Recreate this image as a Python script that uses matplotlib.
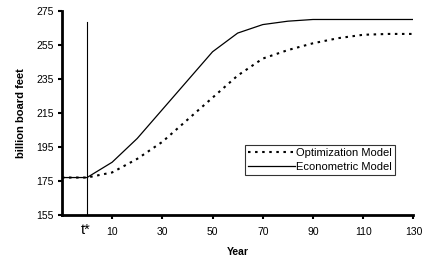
import matplotlib.pyplot as plt
import numpy as np

plt.rcParams['font.family'] = ['Liberation Sans', 'DejaVu Sans']
plt.rcParams['font.size'] = 7.5

# Data (year relative to t*)
years = [-10, 0, 10, 20, 30, 40, 50, 60, 70, 80, 90, 100, 110, 120, 130]
optimization = [177, 177, 180, 188, 198, 211, 224, 237, 247, 252, 256, 259, 261, 261.5, 261.5]
econometric = [177, 177, 186, 200, 217, 234, 251, 262, 267, 269, 270, 270, 270, 270, 270]
xticks = [10, 30, 50, 70, 90, 110, 130]
yticks = [155, 175, 195, 215, 235, 255, 275]

fig = plt.figure(figsize=(4.24, 2.68), dpi=100)
ax = fig.add_axes([0.146, 0.198, 0.829, 0.761])

ax.plot(years, optimization, color='black', linewidth=1.5, linestyle=(0, (1.2, 2.2)),
        label='Optimization Model')
ax.plot(years, econometric, color='black', linewidth=0.9, label='Econometric Model')

# vertical marker at t*
ax.plot([0, 0], [155, 268.7], color='black', linewidth=0.8)

ax.set_xlim(-10, 130)
ax.set_ylim(155, 275)
ax.set_xticks(xticks)
ax.set_yticks(yticks)
ax.tick_params(direction='out', length=3, width=1.5)
ax.tick_params(axis='x', pad=6)
ax.tick_params(axis='y', pad=3)

ax.spines['top'].set_visible(False)
ax.spines['right'].set_visible(False)
ax.spines['left'].set_linewidth(2)
ax.spines['bottom'].set_linewidth(2)

ax.text(-0.5, 146, 't*', ha='center', va='center', fontsize=10.5, clip_on=False)

ax.set_xlabel('Year', fontweight='bold', fontsize=7.5, labelpad=7)
ax.set_ylabel('billion board feet', fontweight='bold', fontsize=8, labelpad=7)

leg = ax.legend(loc='upper left', bbox_to_anchor=(0.521, 0.343), frameon=True, fancybox=False,
                edgecolor='black', fontsize=8, handlelength=4.2, handletextpad=0.1,
                borderpad=0.3, labelspacing=0.3, borderaxespad=0)
leg.get_frame().set_linewidth(0.8)

fig.savefig('out.png', dpi=100)
